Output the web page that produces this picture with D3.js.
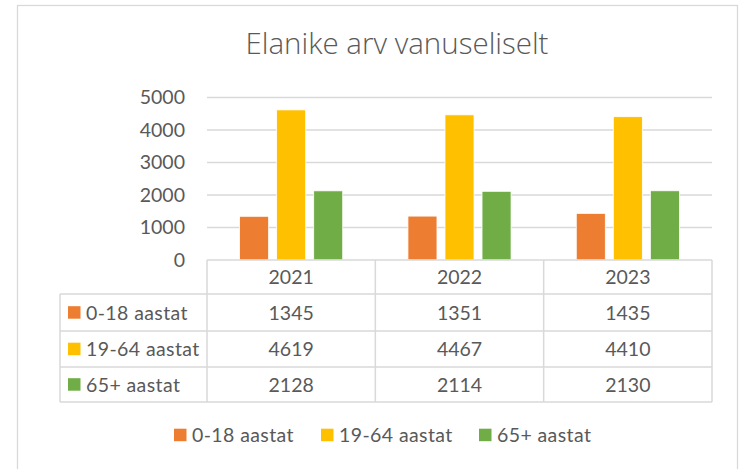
<!DOCTYPE html>
<html>
<head>
<meta charset="utf-8">
<script src="https://cdn.jsdelivr.net/npm/d3@7"></script>
<style>
  body { margin: 0; background: #fff; }
  svg { display: block; font-family: Lato, "Open Sans", sans-serif; }
</style>
</head>
<body>
<svg id="chart" width="740" height="469"></svg>
<script>
const years = ['2021', '2022', '2023'];
const seriesNames = ['0-18 aastat', '19-64 aastat', '65+ aastat'];
const age0to18 = [1345, 1351, 1435];
const age19to64 = [4619, 4467, 4410];
const age65plus = [2128, 2114, 2130];
const yTicks = [0, 1000, 2000, 3000, 4000, 5000];
const colors = ['#ED7D31', '#FFC000', '#70AD47'];

const seriesValues = [age0to18, age19to64, age65plus];
const textColor = '#595959';
const lineColor = '#D9D9D9';

const svg = d3.select('#chart');

// chart frame
svg.append('rect')
    .attr('x', 17.5).attr('y', 5.5)
    .attr('width', 720).attr('height', 470)
    .attr('fill', '#fff')
    .attr('stroke', lineColor).attr('stroke-width', 1.3);

svg.append('text')
    .attr('x', 397).attr('y', 54)
    .attr('text-anchor', 'middle')
    .attr('font-family', '"Open Sans", sans-serif')
    .attr('font-size', 29.5).attr('font-weight', 300)
    .attr('fill', textColor)
    .text('Elanike arv vanuseliselt');

const plot = { left: 207, right: 712, top: 97.5, bottom: 260 };
const x = d3.scaleBand().domain(years).range([plot.left, plot.right]);
const xInner = d3.scaleBand().domain(seriesNames).range([0, x.bandwidth()])
    .paddingInner(0.216).paddingOuter(0.88);
const y = d3.scaleLinear().domain([0, 5000]).range([plot.bottom, plot.top]);

// gridlines
svg.append('g')
    .selectAll('line')
    .data(yTicks.filter(d => d > 0))
    .join('line')
    .attr('x1', plot.left).attr('x2', plot.right)
    .attr('y1', d => y(d)).attr('y2', d => y(d))
    .attr('stroke', lineColor).attr('stroke-width', 1.3);

// y axis labels
const yAxis = svg.append('g')
    .attr('transform', 'translate(185,0)')
    .call(d3.axisLeft(y).tickValues(yTicks).tickFormat(d3.format('d')).tickSize(0).tickPadding(0));
yAxis.select('.domain').remove();
yAxis.selectAll('text')
    .attr('font-family', 'Lato, sans-serif')
    .attr('font-size', 19.5)
    .attr('fill', textColor);

// bars
const groups = svg.append('g')
    .selectAll('g')
    .data(years)
    .join('g')
    .attr('transform', d => `translate(${x(d)},0)`);

groups.selectAll('rect')
    .data((d, i) => seriesNames.map((s, j) => ({ s, j, v: seriesValues[j][i] })))
    .join('rect')
    .attr('x', d => xInner(d.s))
    .attr('width', xInner.bandwidth())
    .attr('y', d => y(d.v))
    .attr('height', d => y(0) - y(d.v))
    .attr('fill', d => colors[d.j])
    .attr('stroke', '#fff').attr('stroke-width', 0.8);

// data table
const rowEdges = [260, 294, 331, 367, 402];
const tableLeft = 60;
const table = svg.append('g')
    .attr('stroke', lineColor).attr('stroke-width', 1.5).attr('fill', 'none');

// horizontal lines
rowEdges.forEach((ry, i) => {
    table.append('line')
        .attr('x1', i === 0 ? plot.left : tableLeft).attr('x2', plot.right)
        .attr('y1', ry).attr('y2', ry);
});
// vertical lines
years.map(d => x(d)).concat([plot.right]).forEach(cx => {
    table.append('line')
        .attr('x1', cx).attr('x2', cx)
        .attr('y1', rowEdges[0]).attr('y2', rowEdges[4]);
});
table.append('line')
    .attr('x1', tableLeft).attr('x2', tableLeft)
    .attr('y1', rowEdges[1]).attr('y2', rowEdges[4]);

const cellText = svg.append('g')
    .attr('font-size', 19.5).attr('fill', textColor);

// header years
cellText.selectAll('.yr')
    .data(years)
    .join('text')
    .attr('class', 'yr')
    .attr('x', d => x(d) + x.bandwidth() / 2)
    .attr('y', (rowEdges[0] + rowEdges[1]) / 2)
    .attr('dy', '0.36em')
    .attr('text-anchor', 'middle')
    .text(d => d);

seriesNames.forEach((name, j) => {
    const cy = (rowEdges[j + 1] + rowEdges[j + 2]) / 2;
    svg.append('rect')
        .attr('x', 68).attr('y', cy - 6.3)
        .attr('width', 12.5).attr('height', 12.5)
        .attr('fill', colors[j]);
    cellText.append('text')
        .attr('x', 86).attr('y', cy).attr('dy', '0.36em')
        .attr('letter-spacing', 0.4)
        .text(name);
    cellText.selectAll(null)
        .data(seriesValues[j])
        .join('text')
        .attr('x', (d, i) => x(years[i]) + x.bandwidth() / 2)
        .attr('y', cy).attr('dy', '0.36em')
        .attr('text-anchor', 'middle')
        .text(d => d);
});

// bottom legend
const legendX = [174, 321, 479];
const legend = svg.append('g')
    .selectAll('g')
    .data(seriesNames)
    .join('g')
    .attr('transform', (d, i) => `translate(${legendX[i]},435)`);
legend.append('rect')
    .attr('y', -6.3).attr('width', 12.5).attr('height', 12.5)
    .attr('fill', (d, i) => colors[i]);
legend.append('text')
    .attr('x', 18).attr('dy', '0.36em')
    .attr('font-size', 19.5).attr('fill', textColor)
    .attr('letter-spacing', 0.4)
    .text(d => d);
</script>
</body>
</html>
